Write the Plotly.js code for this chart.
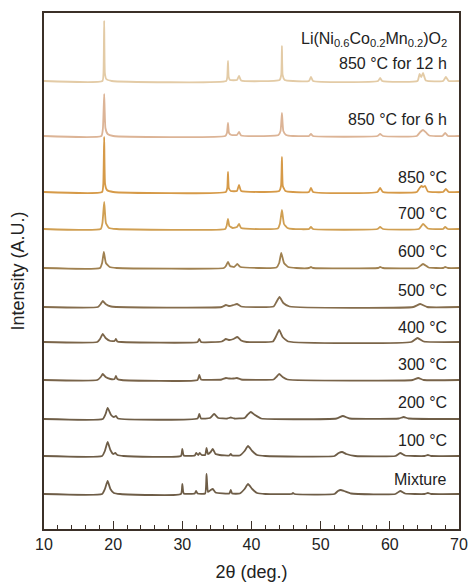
<!DOCTYPE html>
<html>
<head>
<meta charset="utf-8">
<script src="https://cdn.plot.ly/plotly-3.0.1.min.js"></script>
<style>html,body{margin:0;padding:0;background:#fff;}#chart{width:469px;height:584px;}</style>
</head>
<body>
<div id="chart"></div>
<script>
// Sample names (bottom to top)
const sampleNames = ["Mixture", "100 °C", "200 °C", "300 °C", "400 °C", "500 °C", "600 °C", "700 °C", "850 °C", "850 °C for 6 h", "850 °C for 12 h"];
// Vertical stacking offsets (A.U.)
const offsets = [35, 73, 110, 149, 187, 222, 261, 300, 337, 393, 448];

// 2θ (deg.) and relative intensity
const mixX = [10,18.4,18.8,19.2,19.6,20.1,21,29.8,30.0,30.2,31.8,32.0,32.2,33.3,33.5,33.7,34.1,34.4,34.8,36.8,37.0,37.2,38.3,39.0,39.5,40.1,40.8,42,45.8,46,46.2,52,52.5,52.9,53.4,54.4,60.8,61.5,62.2,65,65.5,66,70];
const mixY = [0,0,5,13,5,1,0,0,10,0.5,0.5,3,0.5,0.5,20,2,4,5,1.5,0.5,4,0.5,0.5,5,10,5,1,0,0,1,0,0,3,4,3,0.5,0,3,0.5,0,1,0,0];

const c100X = [10,18.4,18.8,19.2,19.6,20.0,20.3,20.6,21.5,29.8,30.0,30.2,31.8,32.0,32.3,32.5,32.8,33.3,33.5,33.7,34.1,34.4,34.8,35.4,36.8,37.0,37.2,38.3,39.0,39.5,40.1,40.8,42,52,52.6,53.1,53.7,55,60.8,61.5,62.2,65,65.5,66,70];
const c100Y = [0,0,5,14,6,2,3,1,0,0,7,0.5,0.5,3,1,3,1,1,8,2,4,7,2,1,0.5,2,0.5,0.5,5,10,5,1,0,0,3,4,2,0,0,3,0.5,0,1,0,0];

const c200X = [10,18.5,18.9,19.2,19.7,20.1,20.4,20.7,32.2,32.45,32.7,34.0,34.6,35.2,36.5,37.0,37.5,39.0,39.4,39.9,40.5,41.4,52.3,53.2,54.2,61.3,62.0,62.7,70];
const c200Y = [0,0,5,11,4,2,3,0.5,0.5,5,0.5,1,5,1,0.5,1.5,0.5,1,4,7,4,0.5,0.5,3,0.5,0.5,2,0.5,0];

const c300X = [10,17.7,18.2,18.5,18.9,19.6,20.2,20.4,20.6,21.2,32.2,32.45,32.7,35.7,36.3,36.8,37.4,37.9,38.5,43.2,43.6,44.0,44.5,45.2,63.3,64.1,64.9,70];
const c300Y = [0,0,3,6,3,1,1,4,1,0,0,5,0.5,0.5,2,1.5,1.5,2,0.5,0.5,3,6,3,0.5,0,2,0,0];

const c400X = [10,17.7,18.1,18.5,18.9,19.6,20.2,20.4,20.6,21.2,32.2,32.45,32.7,35.7,36.3,36.8,37.4,37.95,38.5,39.3,43.1,43.5,44.0,44.5,45.3,63.1,64.0,64.9,70];
const c400Y = [0,0,3,8,4,1,1,3,0.5,0,0,3,0,0.5,3,2,3,5,1.5,0,0.5,5,12,5,0.5,0,4,0.5,0];

const c500X = [10,17.8,18.2,18.5,18.9,19.7,35.7,36.3,36.8,37.4,37.9,38.5,43.2,43.6,44.05,44.6,45.5,63.4,64.4,65.4,70];
const c500Y = [0,0,3,6,3,0.5,0,2,1,2,3,0.5,0.5,5,10,4,0.5,0,3,0,0];

const c600X = [10,18.1,18.4,18.65,18.95,19.5,20.5,36.0,36.3,36.6,36.9,37.5,37.95,38.4,43.6,44.0,44.3,44.7,45.3,46.5,48.3,48.6,48.9,58.3,58.6,59.0,64.0,64.8,65.6,67.7,68.0,68.4,70];
const c600Y = [0,0,5,16,5,1,0,0,2,6,2,1,4,1,0.5,5,15,5,1,0,0,1,0,0,1,0,0,4,0.5,0,1,0,0];

const c700X = [10,18.2,18.45,18.7,18.95,19.4,20.5,36.2,36.4,36.6,36.8,37.3,37.9,38.2,38.5,43.8,44.1,44.4,44.7,45.2,46.0,48.3,48.6,48.9,58.2,58.6,59.0,64.2,64.8,65.5,67.7,68.0,68.4,70];
const c700Y = [0,0,6,27,6,1,0,0,3,10,3,1,2,5,1,0.5,5,19,5,1,0,0,2,0,0,2,0,0,5,0.5,0,2,0,0];

const c850X = [10,18.4,18.57,18.7,18.83,19.1,20.0,36.3,36.5,36.6,36.72,37.0,37.9,38.2,38.5,44.0,44.27,44.4,44.53,44.9,46.0,48.3,48.6,48.9,58.2,58.6,59.0,63.9,64.3,64.6,64.8,65.1,65.5,67.7,68.1,68.5,70];
const c850Y = [0,0,8,55,8,2,0,0,4,20,4,1,1,7,1,1,6,35,6,1,0,0,4,0,0,4,0,0,4,6,5,6,0.5,0,3,0,0];

const h6X = [10,18.3,18.52,18.7,18.88,19.2,20.0,36.2,36.45,36.6,36.75,37.1,37.9,38.2,38.5,43.9,44.2,44.4,44.6,45.0,46.0,48.3,48.6,48.9,58.2,58.6,59.0,63.9,64.4,64.8,65.3,65.7,67.6,68.0,68.4,70];
const h6Y = [0,0,8,42,8,2,0,0,3,13,3,1,1,4,0.5,1,5,23,5,1,0,0,2,0,0,2,0,0,4,6,3,0.5,0,3,0,0];

const h12X = [10,18.45,18.6,18.7,18.8,19.0,19.8,36.35,36.5,36.6,36.7,36.9,37.9,38.2,38.5,44.05,44.3,44.4,44.5,44.8,46.0,48.3,48.6,48.9,58.3,58.6,58.9,64.0,64.3,64.55,64.8,65.2,67.7,68.1,68.5,70];
const h12Y = [0,0,8,60,8,2,0,0,4,20,4,1,1,5,0.5,1,6,35,6,1,0,0,4,0,0,3,0,0,7,4,8,0.5,0,4,0,0];

const seriesX = [mixX, c100X, c200X, c300X, c400X, c500X, c600X, c700X, c850X, h6X, h12X];
const seriesY = [mixY, c100Y, c200Y, c300Y, c400Y, c500Y, c600Y, c700Y, c850Y, h6Y, h12Y];
const colors = ["#6e5d47", "#6e5d47", "#6f5e47", "#786349", "#7b6549", "#856d4d", "#a08150", "#d09f52", "#d69a48", "#dcb496", "#e3cba6"];

const traces = seriesX.map((xs, i) => ({
  x: xs,
  y: seriesY[i].map(v => v + offsets[i]),
  type: "scatter",
  mode: "lines",
  line: {color: colors[i], width: 1.8, shape: "spline", smoothing: 0.4},
  hoverinfo: "skip",
  showlegend: false
}));

const FONT = "Liberation Sans, Arial, Helvetica, sans-serif";
const labelY = [50, 89, 127, 165, 202, 239, 278, 316, 352, 410, 466];
const annotations = sampleNames.map((t, i) => ({
  x: 68.55, y: labelY[i], xref: "x", yref: "y", text: t, showarrow: false,
  xanchor: "right", yanchor: "middle",
  font: {family: FONT, size: 16, color: "#222"}
}));
annotations.push({
  x: 68.55, y: 490, xref: "x", yref: "y",
  text: "Li(Ni<sub>0.6</sub>Co<sub>0.2</sub>Mn<sub>0.2</sub>)O<sub>2</sub>",
  showarrow: false, xanchor: "right", yanchor: "middle",
  font: {family: FONT, size: 16, color: "#222"}
});

const layout = {
  width: 469, height: 584,
  margin: {l: 44, r: 10, t: 13, b: 55},
  paper_bgcolor: "#fff", plot_bgcolor: "#fff",
  font: {family: FONT, size: 16, color: "#222"},
  xaxis: {
    range: [10, 70], tick0: 10, dtick: 10, ticks: "inside", ticklen: 8, tickwidth: 1.2,
    tickcolor: "#3b3028", showgrid: false, zeroline: false,
    showline: true, linecolor: "#3b3028", linewidth: 2, mirror: true,
    minor: {ticks: "inside", dtick: 2, ticklen: 4, tickwidth: 1, tickcolor: "#3b3028", showgrid: false},
    tickfont: {family: FONT, size: 16, color: "#222"},
    title: {text: "2θ (deg.)", font: {family: FONT, size: 18, color: "#222"}, standoff: 13}
  },
  yaxis: {
    range: [0, 516], showticklabels: false, ticks: "", showgrid: false, zeroline: false,
    showline: true, linecolor: "#3b3028", linewidth: 2, mirror: true,
    title: {text: "Intensity (A.U.)", font: {family: FONT, size: 18, color: "#222"}, standoff: 13}
  },
  annotations: annotations
};

Plotly.newPlot("chart", traces, layout, {displayModeBar: false, staticPlot: true});
</script>
</body>
</html>
